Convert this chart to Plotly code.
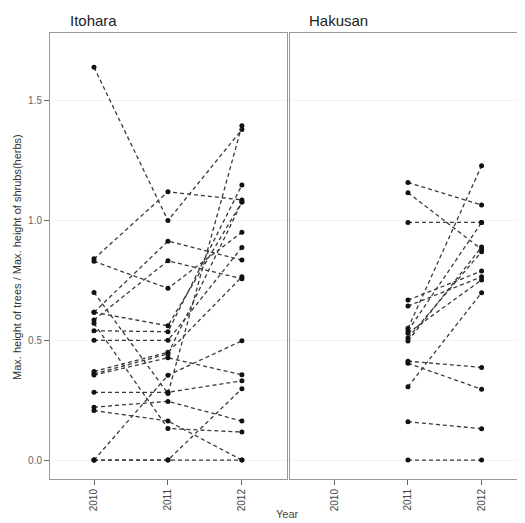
import plotly.graph_objects as go

years = [2010, 2011, 2012]
year_labels = ["2010", "2011", "2012"]
y_ticks = [0.0, 0.5, 1.0, 1.5]
y_tick_labels = ["0.0", "0.5", "1.0", "1.5"]
panel_titles = ["Itohara", "Hakusan"]

# Itohara: each index is one plot (2010, 2011, 2012)
itohara_2010 = [1.64, 0.84, 0.83, 0.70, 0.617, 0.617, 0.585, 0.571, 0.54, 0.50,
                0.37, 0.36, 0.355, 0.283, 0.221, 0.207, 0.0, 0.0, 0.0]
itohara_2011 = [1.00, 1.12, 0.717, 0.278, 0.561, 0.914, 0.832, 0.132, 0.536, 0.50,
                0.45, 0.443, 0.427, 0.283, 0.245, 0.163, 0.354, 0.0, 0.0]
itohara_2012 = [1.38, 1.086, 0.951, 1.396, 1.077, 0.835, 0.757, 0.117, 1.148, 0.888,
                0.765, 1.077, 0.356, 0.331, 0.163, 0.0, 0.498, 0.0, 0.298]

# Hakusan: no 2010 data
hakusan_2011 = [1.159, 1.116, 0.992, 0.668, 0.643, 0.55, 0.54, 0.53, 0.51, 0.497,
                0.413, 0.404, 0.306, 0.16, 0.0]
hakusan_2012 = [1.065, 0.88, 0.992, 0.789, 0.765, 1.229, 0.992, 0.752, 0.87, 0.89,
                0.387, 0.296, 0.699, 0.131, 0.0]

line_style = dict(color="#3a3a3a", width=1.3, dash="4px,3px")
marker_style = dict(color="#111111", size=5)

fig = go.Figure()
for a, b, c in zip(itohara_2010, itohara_2011, itohara_2012):
    fig.add_trace(go.Scatter(x=years, y=[a, b, c], mode="lines+markers",
                             line=line_style, marker=marker_style,
                             xaxis="x", yaxis="y", showlegend=False))
for b, c in zip(hakusan_2011, hakusan_2012):
    fig.add_trace(go.Scatter(x=years[1:], y=[b, c], mode="lines+markers",
                             line=line_style, marker=marker_style,
                             xaxis="x2", yaxis="y2", showlegend=False))

# page body has an 8px margin, so the figure is drawn offset by 8px
OFF = 8
W, H = 525 - OFF, 523 - OFF


def px(x):
    return (x - OFF) / W


def py(y):
    return (523 - y) / H


font = "Liberation Sans, Arial, sans-serif"
xcommon = dict(tickmode="array", tickvals=years, ticktext=year_labels,
               tickangle=-90, ticks="outside", ticklen=5, tickcolor="#666",
               showline=True, mirror=True, linecolor="#999", linewidth=1,
               showgrid=False, zeroline=False,
               tickfont=dict(family=font, size=10, color="#444"))
ycommon = dict(range=[-0.079, 1.783], showline=True, mirror=True,
               linecolor="#999", linewidth=1, zeroline=False,
               showgrid=True, gridcolor="#f3f3f3", gridwidth=1,
               tickmode="array", tickvals=y_ticks, ticktext=y_tick_labels)

fig.update_layout(
    width=W, height=H,
    margin=dict(l=0, r=0, t=0, b=0),
    paper_bgcolor="white", plot_bgcolor="white",
    xaxis=dict(domain=[px(50), px(287)], range=[2009.405, 2012.61], anchor="y", **xcommon),
    xaxis2=dict(domain=[px(289.5), 1.0], range=[2009.39, 2012.59], anchor="y2", **xcommon),
    yaxis=dict(domain=[py(479), py(33)], anchor="x", ticks="outside", ticklen=5,
               tickcolor="#666", tickfont=dict(family=font, size=10, color="#666"),
               **ycommon),
    yaxis2=dict(domain=[py(479), py(33)], anchor="x2", showticklabels=False,
                ticks="", **ycommon),
    annotations=[
        dict(text=panel_titles[0], x=px(68), y=py(31), xref="paper", yref="paper",
             xanchor="left", yanchor="bottom", showarrow=False,
             font=dict(family=font, size=15, color="#222")),
        dict(text=panel_titles[1], x=px(307), y=py(31), xref="paper", yref="paper",
             xanchor="left", yanchor="bottom", showarrow=False,
             font=dict(family=font, size=15, color="#222")),
        dict(text="Year", x=px(287), y=py(514), xref="paper", yref="paper",
             xanchor="center", yanchor="middle", showarrow=False,
             font=dict(family=font, size=11, color="#444")),
        dict(text="Max. height of trees / Max. height of shrubs(herbs)",
             x=px(17), y=py(257), xref="paper", yref="paper",
             xanchor="center", yanchor="middle", textangle=-90, showarrow=False,
             font=dict(family=font, size=11, color="#333")),
    ],
)

fig.write_html("out.html")
